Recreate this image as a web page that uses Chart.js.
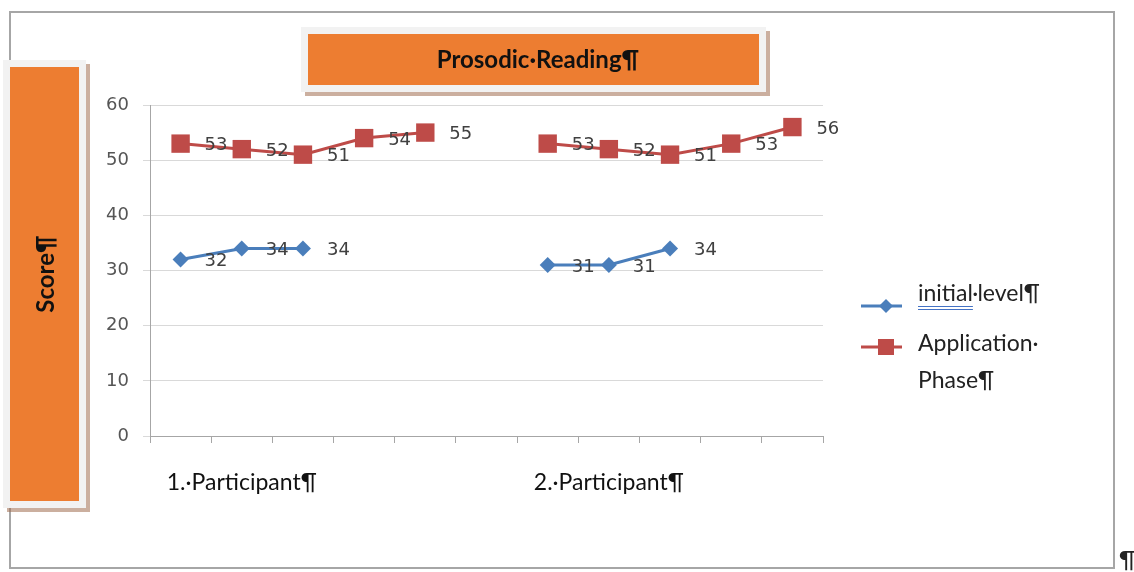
<!DOCTYPE html>
<html>
<head>
<meta charset="utf-8">
<script src="https://cdn.jsdelivr.net/npm/chart.js@4.4.1/dist/chart.umd.min.js"></script>
<style>
  html, body { margin: 0; padding: 0; background: #fff; }
  #wrap { width: 1134px; height: 572px; position: relative; }
</style>
</head>
<body>
<div id="wrap"><canvas id="prosody"></canvas></div>
<script>
  // 11 category slots, only two carry a group label
  const categories = ["", "1.·Participant¶", "", "", "", "", "", "2.·Participant¶", "", "", ""];
  const initialLevel = [32, 34, 34, null, null, null, 31, 31, 34, null, null];
  const applicationPhase = [53, 52, 51, 54, 55, null, 53, 52, 51, 53, 56];
  const seriesNames = ["initial·level¶", ["Application·", "Phase¶"]];
  const yTicks = [0, 10, 20, 30, 40, 50, 60];
  const chartTitle = "Prosodic·Reading¶";
  const yTitle = "Score¶";

  const blue = "#4A7EBB";
  const red = "#BE4B48";
  const calibriLike = "Lato, 'Open Sans', sans-serif";

  function box(ctx, x, y, w, h) {
    ctx.fillStyle = "rgba(160,110,80,0.55)";
    ctx.fillRect(x + 4, y + 4, w, h);
    ctx.fillStyle = "#F2F2F2";
    ctx.fillRect(x, y, w, h);
    ctx.fillStyle = "#ED7D31";
    ctx.fillRect(x + 7, y + 7, w - 14, h - 14);
  }

  const decorations = {
    id: "decorations",
    beforeDraw(chart) {
      const ctx = chart.ctx;
      ctx.save();
      ctx.fillStyle = "#fff";
      ctx.fillRect(0, 0, chart.width, chart.height);
      ctx.strokeStyle = "#A6A6A6";
      ctx.lineWidth = 2;
      ctx.strokeRect(10, 12, 1104, 556);

      ctx.font = "bold 24px " + calibriLike;
      ctx.textAlign = "center";
      ctx.textBaseline = "middle";

      box(ctx, 301, 27, 465, 65);
      ctx.fillStyle = "#111";
      ctx.fillText(chartTitle, 538, 60);

      box(ctx, 3, 60, 83, 448);
      ctx.fillStyle = "#111";
      ctx.translate(46, 274);
      ctx.rotate(-Math.PI / 2);
      ctx.fillText(yTitle, 0, 0);
      ctx.restore();
    },
    afterDatasetsDraw(chart) {
      const ctx = chart.ctx;
      ctx.save();
      ctx.font = "18px 'DejaVu Sans'";
      ctx.fillStyle = "#404040";
      ctx.textAlign = "left";
      ctx.textBaseline = "middle";
      chart.data.datasets.forEach((ds, di) => {
        chart.getDatasetMeta(di).data.forEach((pt, i) => {
          if (ds.data[i] == null) return;
          ctx.fillText(String(ds.data[i]), pt.x + 24, pt.y + 2);
        });
      });
      ctx.restore();
    },
    afterDraw(chart) {
      const ctx = chart.ctx;
      ctx.save();
      // legend
      const lx = 861, mx = 886;
      ctx.lineWidth = 3;
      ctx.strokeStyle = blue;
      ctx.beginPath(); ctx.moveTo(lx, 306); ctx.lineTo(lx + 41, 306); ctx.stroke();
      ctx.fillStyle = blue;
      ctx.beginPath();
      ctx.moveTo(mx, 299); ctx.lineTo(mx + 7, 306); ctx.lineTo(mx, 313); ctx.lineTo(mx - 7, 306);
      ctx.closePath(); ctx.fill();

      ctx.strokeStyle = red;
      ctx.beginPath(); ctx.moveTo(lx, 347); ctx.lineTo(lx + 41, 347); ctx.stroke();
      ctx.fillStyle = red;
      ctx.fillRect(mx - 8, 339, 16, 16);

      ctx.fillStyle = "#222";
      ctx.font = "23px " + calibriLike;
      ctx.textAlign = "left";
      ctx.textBaseline = "alphabetic";
      ctx.fillText(seriesNames[0], 918, 301);
      const w = ctx.measureText("initial").width;
      ctx.strokeStyle = "#4472C4";
      ctx.lineWidth = 1;
      ctx.beginPath();
      ctx.moveTo(918, 306.5); ctx.lineTo(918 + w, 306.5);
      ctx.moveTo(918, 309.5); ctx.lineTo(918 + w, 309.5);
      ctx.stroke();
      ctx.fillText(seriesNames[1][0], 918, 351);
      ctx.fillText(seriesNames[1][1], 918, 388);

      ctx.font = "24px " + calibriLike;
      ctx.fillText("¶", 1119, 568);
      ctx.restore();
    }
  };

  new Chart(document.getElementById("prosody"), {
    type: "line",
    data: {
      labels: categories,
      datasets: [
        {
          label: "initial level",
          data: initialLevel,
          borderColor: blue,
          backgroundColor: blue,
          borderWidth: 3,
          pointStyle: "rectRot",
          pointRadius: 8,
          pointBorderWidth: 0,
          spanGaps: false,
          tension: 0
        },
        {
          label: "Application Phase",
          data: applicationPhase,
          borderColor: red,
          backgroundColor: red,
          borderWidth: 3,
          pointStyle: "rect",
          pointRadius: 13,
          pointBorderWidth: 0,
          spanGaps: false,
          tension: 0
        }
      ]
    },
    options: {
      responsive: true,
      maintainAspectRatio: false,
      animation: false,
      events: [],
      layout: { padding: { left: 80, right: 311, top: 105, bottom: 56 } },
      plugins: {
        legend: { display: false },
        title: { display: false },
        tooltip: { enabled: false }
      },
      scales: {
        x: {
          offset: true,
          afterFit: s => { s.height = 80; },
          grid: { offset: true, drawOnChartArea: false, drawTicks: true, tickLength: 7, color: "#A6A6A6" },
          border: { color: "#A6A6A6", width: 1 },
          ticks: {
            autoSkip: false,
            maxRotation: 0,
            padding: 26,
            color: "#111",
            font: { family: calibriLike, size: 23 }
          }
        },
        y: {
          min: 0,
          max: 60,
          afterFit: s => { s.width = 70; },
          afterBuildTicks: s => { s.ticks = yTicks.map(v => ({ value: v })); },
          grid: { color: "#D9D9D9", lineWidth: 1, tickLength: 7 },
          border: { color: "#A6A6A6", width: 1 },
          ticks: {
            padding: 14,
            color: "#555",
            font: { family: "'DejaVu Sans'", size: 18 }
          }
        }
      }
    },
    plugins: [decorations]
  });
</script>
</body>
</html>
